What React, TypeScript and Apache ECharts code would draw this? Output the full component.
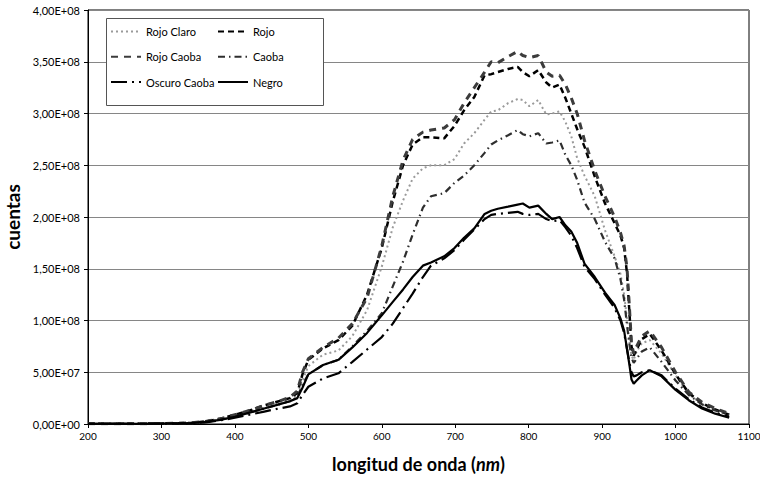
import React, { useEffect, useRef } from "react";
import * as echarts from "echarts";

const wavelengths = [200, 250, 300, 340, 360, 380, 400, 420, 440, 460, 475, 485, 492, 500, 520, 541, 560, 580, 600, 615, 629, 642, 656, 667, 685, 699, 712, 726, 740, 749, 758, 772, 785, 792, 801, 813, 824, 832, 842, 850, 858, 866, 876, 890, 904, 917, 925, 930, 934, 937, 940, 943, 947, 954, 965, 981, 1000, 1018, 1036, 1054, 1073];

// values in units of 1e8 counts
const rojoClaro = [0.002, 0.002, 0.003, 0.01, 0.02, 0.045, 0.08, 0.12, 0.16, 0.2, 0.23, 0.28, 0.42, 0.56, 0.67, 0.71, 0.85, 1.1, 1.52, 1.9, 2.16, 2.37, 2.47, 2.5, 2.5, 2.56, 2.71, 2.81, 2.94, 3.02, 3.03, 3.1, 3.14, 3.13, 3.07, 3.13, 2.99, 3.0, 3.02, 2.92, 2.78, 2.57, 2.4, 2.2, 1.87, 1.62, 1.45, 1.25, 1.0, 0.8, 0.66, 0.62, 0.7, 0.78, 0.81, 0.68, 0.47, 0.29, 0.19, 0.13, 0.09];
const rojo = [0.003, 0.003, 0.004, 0.01, 0.025, 0.05, 0.09, 0.13, 0.18, 0.22, 0.25, 0.3, 0.48, 0.62, 0.73, 0.81, 0.95, 1.25, 1.7, 2.15, 2.5, 2.7, 2.77, 2.77, 2.76, 2.88, 3.03, 3.16, 3.37, 3.38, 3.4, 3.43, 3.45, 3.4, 3.36, 3.42, 3.3, 3.25, 3.28, 3.15, 3.0, 2.85, 2.68, 2.39, 2.13, 1.94, 1.82, 1.7, 1.45, 1.1, 0.75, 0.66, 0.72, 0.82, 0.87, 0.71, 0.48, 0.3, 0.2, 0.14, 0.09];
const rojoCaoba = [0.003, 0.003, 0.004, 0.01, 0.025, 0.05, 0.09, 0.13, 0.18, 0.22, 0.26, 0.32, 0.5, 0.63, 0.74, 0.83, 0.97, 1.22, 1.72, 2.2, 2.55, 2.75, 2.82, 2.84, 2.86, 2.94, 3.1, 3.25, 3.4, 3.5, 3.49, 3.55, 3.6, 3.56, 3.54, 3.56, 3.4, 3.36, 3.37, 3.28, 3.15, 3.0, 2.74, 2.45, 2.2, 2.0, 1.85, 1.72, 1.5, 1.15, 0.78, 0.68, 0.75, 0.85, 0.9, 0.74, 0.5, 0.31, 0.21, 0.15, 0.1];
const caoba = [0.002, 0.002, 0.003, 0.008, 0.02, 0.04, 0.07, 0.11, 0.15, 0.19, 0.22, 0.26, 0.38, 0.48, 0.57, 0.62, 0.75, 0.9, 1.07, 1.33, 1.57, 1.83, 2.09, 2.2, 2.23, 2.33, 2.4, 2.5, 2.62, 2.7, 2.74, 2.79, 2.84, 2.8, 2.78, 2.81, 2.71, 2.72, 2.74, 2.6, 2.5, 2.36, 2.14, 1.98, 1.76, 1.6, 1.4, 1.2, 0.95, 0.78, 0.64, 0.59, 0.63, 0.7, 0.74, 0.6, 0.42, 0.28, 0.19, 0.13, 0.09];
const oscuroCaoba = [0.002, 0.002, 0.003, 0.007, 0.015, 0.035, 0.06, 0.09, 0.12, 0.15, 0.17, 0.2, 0.28, 0.36, 0.44, 0.49, 0.6, 0.72, 0.84, 0.97, 1.12, 1.26, 1.42, 1.53, 1.6, 1.68, 1.78, 1.88, 1.98, 2.02, 2.03, 2.04, 2.05, 2.03, 2.02, 2.03, 1.98, 1.96, 1.97, 1.9, 1.82, 1.7, 1.52, 1.4, 1.25, 1.12, 1.0, 0.88, 0.72, 0.6, 0.5, 0.46, 0.47, 0.5, 0.52, 0.47, 0.34, 0.24, 0.16, 0.11, 0.07];
const negro = [0.002, 0.002, 0.003, 0.008, 0.02, 0.04, 0.07, 0.11, 0.15, 0.19, 0.22, 0.25, 0.35, 0.48, 0.57, 0.62, 0.74, 0.88, 1.05, 1.18, 1.3, 1.42, 1.53, 1.56, 1.62, 1.7, 1.8, 1.89, 2.03, 2.06, 2.08, 2.1, 2.12, 2.13, 2.09, 2.11, 2.03, 1.98, 2.0, 1.92, 1.86, 1.75, 1.55, 1.42, 1.27, 1.15, 1.02, 0.9, 0.72, 0.58, 0.43, 0.39, 0.42, 0.47, 0.52, 0.46, 0.33, 0.23, 0.15, 0.1, 0.06];

const seriesNames = ["Rojo Claro", "Rojo", "Rojo Caoba", "Caoba", "Oscuro Caoba", "Negro"];
const seriesValues = [rojoClaro, rojo, rojoCaoba, caoba, oscuroCaoba, negro];
const legendCol1 = ["Rojo Claro", "Rojo Caoba", "Oscuro Caoba"];
const legendCol2 = ["Rojo", "Caoba", "Negro"];

const FONT = "Lato, 'Open Sans', sans-serif";

const styles: Record<string, { color: string; width: number; type: any }> = {
  "Rojo Claro": { color: "#9a9a9a", width: 2, type: [2, 3] },
  Rojo: { color: "#000000", width: 2.5, type: [6, 4] },
  "Rojo Caoba": { color: "#3c3c3c", width: 3, type: [7, 6] },
  Caoba: { color: "#2e2e2e", width: 2.2, type: [7, 4, 1.5, 4] },
  "Oscuro Caoba": { color: "#000000", width: 2.2, type: [16, 5, 2, 5] },
  Negro: { color: "#000000", width: 2.2, type: "solid" },
};

function sciLabel(v: number): string {
  if (v === 0) return "0,00E+00";
  const e = Math.floor(Math.log10(v) + 1e-9);
  const m = v / Math.pow(10, e);
  return m.toFixed(2).replace(".", ",") + "E+" + String(e).padStart(2, "0");
}

export default function App() {
  const ref = useRef<HTMLDivElement>(null);
  useEffect(() => {
    document.body.style.margin = "0";
    if (!ref.current) return;
    const chart = echarts.init(ref.current, undefined, { renderer: "svg" });
    const legendBase = {
      orient: "vertical" as const,
      itemWidth: 30,
      itemHeight: 14,
      itemGap: 14,
      padding: 0,
      textStyle: { fontFamily: FONT, fontSize: 11, color: "#000" },
      itemStyle: { opacity: 0 },
      selectedMode: false,
    };
    chart.setOption({
      animation: false,
      backgroundColor: "#fff",
      grid: {
        left: 88,
        right: 11,
        top: 10,
        bottom: 53,
        outerBoundsMode: "none",
        containLabel: false,
        show: true,
        borderColor: "#000",
        borderWidth: 1,
      },
      legend: [
        { ...legendBase, data: legendCol1, left: 110, top: 26 },
        { ...legendBase, data: legendCol2, left: 217, top: 26 },
      ],
      graphic: [
        {
          type: "rect",
          z: 3,
          shape: { x: 106.5, y: 18.5, width: 217, height: 87 },
          style: { fill: "#fff", stroke: "#555", lineWidth: 1 },
        },
      ],
      xAxis: {
        type: "value",
        min: 200,
        max: 1100,
        interval: 100,
        name: "{b|longitud de onda (}{bi|nm}{b|)}",
        nameLocation: "middle",
        nameGap: 31,
        nameTextStyle: {
          rich: {
            b: { fontFamily: FONT, fontWeight: "bold", fontSize: 18, color: "#000" },
            bi: { fontFamily: FONT, fontWeight: "bold", fontStyle: "italic", fontSize: 18, color: "#000" },
          },
        },
        axisLine: { show: true, lineStyle: { color: "#000", width: 1 } },
        axisTick: { show: true, inside: false, length: 4, lineStyle: { color: "#000" } },
        axisLabel: { fontFamily: FONT, fontSize: 10, color: "#000", margin: 7, formatter: (v: number) => String(v) },
        splitLine: { show: false },
      },
      yAxis: {
        type: "value",
        min: 0,
        max: 4e8,
        interval: 5e7,
        name: "cuentas",
        nameLocation: "middle",
        nameRotate: 90,
        nameGap: 56,
        nameTextStyle: { fontFamily: FONT, fontWeight: "bold", fontSize: 19, color: "#000" },
        axisLine: { show: true, lineStyle: { color: "#000", width: 1 } },
        axisTick: { show: true, inside: false, length: 4, lineStyle: { color: "#000" } },
        axisLabel: { fontFamily: FONT, fontSize: 11, color: "#000", margin: 8, formatter: sciLabel },
        splitLine: { show: true, lineStyle: { color: "#868686", width: 1 } },
      },
      series: seriesNames.map((name, i) => ({
        name,
        type: "line",
        symbol: "none",
        smooth: false,
        z: 2,
        lineStyle: { ...styles[name], cap: "butt" },
        itemStyle: { color: styles[name].color },
        data: wavelengths.map((w, j) => [w, seriesValues[i][j] * 1e8]),
      })),
    });
    return () => chart.dispose();
  }, []);
  return <div ref={ref} style={{ width: 760, height: 477 }} />;
}
